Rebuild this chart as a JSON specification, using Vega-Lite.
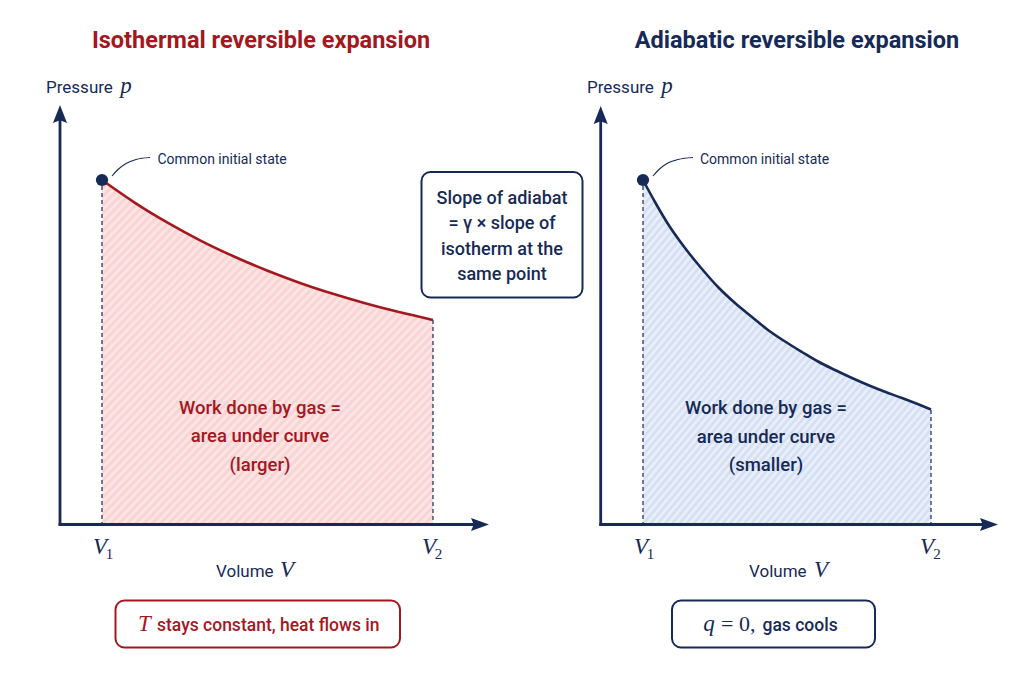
{
  "$schema": "https://vega.github.io/schema/vega-lite/v6.json",
  "width": 1024,
  "height": 683,
  "autosize": {"type": "fit", "contains": "padding"},
  "padding": 0,
  "background": "white",
  "config": {"view": {"stroke": null}},
  "datasets": {
    "curves": [
      {"process": "isothermal", "x": 102, "y": 180},
      {"process": "isothermal", "x": 135, "y": 202.8},
      {"process": "isothermal", "x": 168, "y": 222.9},
      {"process": "isothermal", "x": 201, "y": 240.8},
      {"process": "isothermal", "x": 234, "y": 256.5},
      {"process": "isothermal", "x": 267, "y": 270.5},
      {"process": "isothermal", "x": 300, "y": 282.9},
      {"process": "isothermal", "x": 333, "y": 293.8},
      {"process": "isothermal", "x": 366, "y": 303.5},
      {"process": "isothermal", "x": 399, "y": 312.1},
      {"process": "isothermal", "x": 433, "y": 320},
      {"process": "adiabatic", "x": 643, "y": 180},
      {"process": "adiabatic", "x": 655, "y": 202},
      {"process": "adiabatic", "x": 668, "y": 224},
      {"process": "adiabatic", "x": 685, "y": 248},
      {"process": "adiabatic", "x": 702, "y": 269},
      {"process": "adiabatic", "x": 718, "y": 287},
      {"process": "adiabatic", "x": 735, "y": 303},
      {"process": "adiabatic", "x": 752, "y": 317},
      {"process": "adiabatic", "x": 768, "y": 330},
      {"process": "adiabatic", "x": 785, "y": 341.5},
      {"process": "adiabatic", "x": 802, "y": 352},
      {"process": "adiabatic", "x": 818, "y": 361.5},
      {"process": "adiabatic", "x": 835, "y": 370},
      {"process": "adiabatic", "x": 852, "y": 378},
      {"process": "adiabatic", "x": 868, "y": 385},
      {"process": "adiabatic", "x": 885, "y": 391.8},
      {"process": "adiabatic", "x": 902, "y": 398},
      {"process": "adiabatic", "x": 917, "y": 403.8},
      {"process": "adiabatic", "x": 931, "y": 409.5}
    ],
    "guides": [
      {"x": 102, "y": 186, "y2": 524},
      {"x": 433, "y": 320, "y2": 524},
      {"x": 643, "y": 186, "y2": 524},
      {"x": 931, "y": 410, "y2": 524}
    ],
    "axes": [
      {"x": 60, "y": 525.8, "x2": 60, "y2": 116},
      {"x": 58.6, "y": 524.5, "x2": 478, "y2": 524.5},
      {"x": 600.7, "y": 525.8, "x2": 600.7, "y2": 117},
      {"x": 599.3, "y": 524.5, "x2": 987, "y2": 524.5}
    ],
    "arrows": [
      {"dir": "up", "x": 60, "y": 114},
      {"dir": "up", "x": 600.7, "y": 115},
      {"dir": "right", "x": 480, "y": 524.5},
      {"dir": "right", "x": 989, "y": 524.5}
    ],
    "leaders": [
      {"panel": "left", "x": 112, "y": 176},
      {"panel": "left", "x": 118, "y": 169.5},
      {"panel": "left", "x": 126, "y": 163.5},
      {"panel": "left", "x": 136, "y": 159.5},
      {"panel": "left", "x": 150, "y": 157.5},
      {"panel": "right", "x": 653, "y": 176},
      {"panel": "right", "x": 659, "y": 169.5},
      {"panel": "right", "x": 667, "y": 163.5},
      {"panel": "right", "x": 678, "y": 159.5},
      {"panel": "right", "x": 693, "y": 157.5}
    ],
    "states": [
      {"x": 102, "y": 180},
      {"x": 643, "y": 180}
    ],
    "boxes": [
      {"process": "isothermal", "x": 115.5, "x2": 400, "y": 600.5, "y2": 647.5},
      {"process": "adiabatic", "x": 672, "x2": 875, "y": 600.5, "y2": 647.5},
      {"process": "comparison", "x": 421.5, "x2": 582.5, "y": 172, "y2": 297.5}
    ],
    "labels": [
      {"role": "title", "process": "isothermal", "x": 261, "y": 48, "text": "Isothermal reversible expansion"},
      {"role": "title", "process": "adiabatic", "x": 797, "y": 48, "text": "Adiabatic reversible expansion"},
      {"role": "axisname", "process": "comparison", "x": 46, "y": 93, "text": "Pressure"},
      {"role": "axisname", "process": "comparison", "x": 587, "y": 93, "text": "Pressure"},
      {"role": "axisname", "process": "comparison", "x": 216, "y": 577, "text": "Volume"},
      {"role": "axisname", "process": "comparison", "x": 749, "y": 577, "text": "Volume"},
      {"role": "math", "process": "comparison", "x": 126, "y": 93, "text": "p"},
      {"role": "math", "process": "comparison", "x": 667, "y": 93, "text": "p"},
      {"role": "math", "process": "comparison", "x": 287, "y": 577, "text": "V"},
      {"role": "math", "process": "comparison", "x": 821, "y": 577, "text": "V"},
      {"role": "math", "process": "comparison", "x": 100, "y": 554, "text": "V"},
      {"role": "math", "process": "comparison", "x": 429, "y": 554, "text": "V"},
      {"role": "math", "process": "comparison", "x": 641, "y": 554, "text": "V"},
      {"role": "math", "process": "comparison", "x": 927, "y": 554, "text": "V"},
      {"role": "math", "process": "isothermal", "x": 144.5, "y": 631, "text": "T"},
      {"role": "math", "process": "adiabatic", "x": 709, "y": 631, "text": "q"},
      {"role": "sub", "process": "comparison", "x": 109.5, "y": 558.5, "text": "1"},
      {"role": "sub", "process": "comparison", "x": 438.5, "y": 558.5, "text": "2"},
      {"role": "sub", "process": "comparison", "x": 650.5, "y": 558.5, "text": "1"},
      {"role": "sub", "process": "comparison", "x": 937, "y": 558.5, "text": "2"},
      {"role": "mathup", "process": "adiabatic", "x": 721, "y": 631, "text": "= 0,"},
      {"role": "caption", "process": "isothermal", "x": 157, "y": 631, "text": "stays constant, heat flows in"},
      {"role": "caption", "process": "adiabatic", "x": 762.5, "y": 631, "text": "gas cools"},
      {"role": "note", "process": "comparison", "x": 157.5, "y": 163.5, "text": "Common initial state"},
      {"role": "note", "process": "comparison", "x": 700, "y": 163.5, "text": "Common initial state"},
      {"role": "area", "process": "isothermal", "x": 260, "y": 413.5, "text": "Work done by gas =\narea under curve\n(larger)"},
      {"role": "area", "process": "adiabatic", "x": 766, "y": 414, "text": "Work done by gas =\narea under curve\n(smaller)"},
      {"role": "boxnote", "process": "comparison", "x": 502, "y": 203.5, "text": "Slope of adiabat\n= γ × slope of\nisotherm at the\nsame point"}
    ]
  },
  "encoding": {
    "x": {"field": "x", "type": "quantitative", "scale": {"domain": [0, 1024], "nice": false, "zero": false}, "axis": null},
    "y": {"field": "y", "type": "quantitative", "scale": {"domain": [0, 683], "nice": false, "zero": false, "reverse": true}, "axis": null}
  },
  "layer": [
    {
      "data": {"name": "curves"},
      "transform": [{"filter": "datum.process === 'isothermal'"}],
      "mark": {"type": "area", "orient": "vertical", "interpolate": "monotone", "fill": {"gradient": "linear", "x1": 0, "y1": 0, "x2": 1, "y2": 1, "stops": [
        {"offset": 0, "color": "#f8d0d0"}, {"offset": 0.00625, "color": "#fde8e8"}, {"offset": 0.0125, "color": "#f8d0d0"}, {"offset": 0.01875, "color": "#fde8e8"}, {"offset": 0.025, "color": "#f8d0d0"}, {"offset": 0.03125, "color": "#fde8e8"}, {"offset": 0.0375, "color": "#f8d0d0"}, {"offset": 0.04375, "color": "#fde8e8"}, {"offset": 0.05, "color": "#f8d0d0"}, {"offset": 0.05625, "color": "#fde8e8"}, {"offset": 0.0625, "color": "#f8d0d0"}, {"offset": 0.06875, "color": "#fde8e8"}, {"offset": 0.075, "color": "#f8d0d0"}, {"offset": 0.08125, "color": "#fde8e8"}, {"offset": 0.0875, "color": "#f8d0d0"}, {"offset": 0.09375, "color": "#fde8e8"},
        {"offset": 0.1, "color": "#f8d0d0"}, {"offset": 0.10625, "color": "#fde8e8"}, {"offset": 0.1125, "color": "#f8d0d0"}, {"offset": 0.11875, "color": "#fde8e8"}, {"offset": 0.125, "color": "#f8d0d0"}, {"offset": 0.13125, "color": "#fde8e8"}, {"offset": 0.1375, "color": "#f8d0d0"}, {"offset": 0.14375, "color": "#fde8e8"}, {"offset": 0.15, "color": "#f8d0d0"}, {"offset": 0.15625, "color": "#fde8e8"}, {"offset": 0.1625, "color": "#f8d0d0"}, {"offset": 0.16875, "color": "#fde8e8"}, {"offset": 0.175, "color": "#f8d0d0"}, {"offset": 0.18125, "color": "#fde8e8"}, {"offset": 0.1875, "color": "#f8d0d0"}, {"offset": 0.19375, "color": "#fde8e8"},
        {"offset": 0.2, "color": "#f8d0d0"}, {"offset": 0.20625, "color": "#fde8e8"}, {"offset": 0.2125, "color": "#f8d0d0"}, {"offset": 0.21875, "color": "#fde8e8"}, {"offset": 0.225, "color": "#f8d0d0"}, {"offset": 0.23125, "color": "#fde8e8"}, {"offset": 0.2375, "color": "#f8d0d0"}, {"offset": 0.24375, "color": "#fde8e8"}, {"offset": 0.25, "color": "#f8d0d0"}, {"offset": 0.25625, "color": "#fde8e8"}, {"offset": 0.2625, "color": "#f8d0d0"}, {"offset": 0.26875, "color": "#fde8e8"}, {"offset": 0.275, "color": "#f8d0d0"}, {"offset": 0.28125, "color": "#fde8e8"}, {"offset": 0.2875, "color": "#f8d0d0"}, {"offset": 0.29375, "color": "#fde8e8"},
        {"offset": 0.3, "color": "#f8d0d0"}, {"offset": 0.30625, "color": "#fde8e8"}, {"offset": 0.3125, "color": "#f8d0d0"}, {"offset": 0.31875, "color": "#fde8e8"}, {"offset": 0.325, "color": "#f8d0d0"}, {"offset": 0.33125, "color": "#fde8e8"}, {"offset": 0.3375, "color": "#f8d0d0"}, {"offset": 0.34375, "color": "#fde8e8"}, {"offset": 0.35, "color": "#f8d0d0"}, {"offset": 0.35625, "color": "#fde8e8"}, {"offset": 0.3625, "color": "#f8d0d0"}, {"offset": 0.36875, "color": "#fde8e8"}, {"offset": 0.375, "color": "#f8d0d0"}, {"offset": 0.38125, "color": "#fde8e8"}, {"offset": 0.3875, "color": "#f8d0d0"}, {"offset": 0.39375, "color": "#fde8e8"},
        {"offset": 0.4, "color": "#f8d0d0"}, {"offset": 0.40625, "color": "#fde8e8"}, {"offset": 0.4125, "color": "#f8d0d0"}, {"offset": 0.41875, "color": "#fde8e8"}, {"offset": 0.425, "color": "#f8d0d0"}, {"offset": 0.43125, "color": "#fde8e8"}, {"offset": 0.4375, "color": "#f8d0d0"}, {"offset": 0.44375, "color": "#fde8e8"}, {"offset": 0.45, "color": "#f8d0d0"}, {"offset": 0.45625, "color": "#fde8e8"}, {"offset": 0.4625, "color": "#f8d0d0"}, {"offset": 0.46875, "color": "#fde8e8"}, {"offset": 0.475, "color": "#f8d0d0"}, {"offset": 0.48125, "color": "#fde8e8"}, {"offset": 0.4875, "color": "#f8d0d0"}, {"offset": 0.49375, "color": "#fde8e8"},
        {"offset": 0.5, "color": "#f8d0d0"}, {"offset": 0.50625, "color": "#fde8e8"}, {"offset": 0.5125, "color": "#f8d0d0"}, {"offset": 0.51875, "color": "#fde8e8"}, {"offset": 0.525, "color": "#f8d0d0"}, {"offset": 0.53125, "color": "#fde8e8"}, {"offset": 0.5375, "color": "#f8d0d0"}, {"offset": 0.54375, "color": "#fde8e8"}, {"offset": 0.55, "color": "#f8d0d0"}, {"offset": 0.55625, "color": "#fde8e8"}, {"offset": 0.5625, "color": "#f8d0d0"}, {"offset": 0.56875, "color": "#fde8e8"}, {"offset": 0.575, "color": "#f8d0d0"}, {"offset": 0.58125, "color": "#fde8e8"}, {"offset": 0.5875, "color": "#f8d0d0"}, {"offset": 0.59375, "color": "#fde8e8"},
        {"offset": 0.6, "color": "#f8d0d0"}, {"offset": 0.60625, "color": "#fde8e8"}, {"offset": 0.6125, "color": "#f8d0d0"}, {"offset": 0.61875, "color": "#fde8e8"}, {"offset": 0.625, "color": "#f8d0d0"}, {"offset": 0.63125, "color": "#fde8e8"}, {"offset": 0.6375, "color": "#f8d0d0"}, {"offset": 0.64375, "color": "#fde8e8"}, {"offset": 0.65, "color": "#f8d0d0"}, {"offset": 0.65625, "color": "#fde8e8"}, {"offset": 0.6625, "color": "#f8d0d0"}, {"offset": 0.66875, "color": "#fde8e8"}, {"offset": 0.675, "color": "#f8d0d0"}, {"offset": 0.68125, "color": "#fde8e8"}, {"offset": 0.6875, "color": "#f8d0d0"}, {"offset": 0.69375, "color": "#fde8e8"},
        {"offset": 0.7, "color": "#f8d0d0"}, {"offset": 0.70625, "color": "#fde8e8"}, {"offset": 0.7125, "color": "#f8d0d0"}, {"offset": 0.71875, "color": "#fde8e8"}, {"offset": 0.725, "color": "#f8d0d0"}, {"offset": 0.73125, "color": "#fde8e8"}, {"offset": 0.7375, "color": "#f8d0d0"}, {"offset": 0.74375, "color": "#fde8e8"}, {"offset": 0.75, "color": "#f8d0d0"}, {"offset": 0.75625, "color": "#fde8e8"}, {"offset": 0.7625, "color": "#f8d0d0"}, {"offset": 0.76875, "color": "#fde8e8"}, {"offset": 0.775, "color": "#f8d0d0"}, {"offset": 0.78125, "color": "#fde8e8"}, {"offset": 0.7875, "color": "#f8d0d0"}, {"offset": 0.79375, "color": "#fde8e8"},
        {"offset": 0.8, "color": "#f8d0d0"}, {"offset": 0.80625, "color": "#fde8e8"}, {"offset": 0.8125, "color": "#f8d0d0"}, {"offset": 0.81875, "color": "#fde8e8"}, {"offset": 0.825, "color": "#f8d0d0"}, {"offset": 0.83125, "color": "#fde8e8"}, {"offset": 0.8375, "color": "#f8d0d0"}, {"offset": 0.84375, "color": "#fde8e8"}, {"offset": 0.85, "color": "#f8d0d0"}, {"offset": 0.85625, "color": "#fde8e8"}, {"offset": 0.8625, "color": "#f8d0d0"}, {"offset": 0.86875, "color": "#fde8e8"}, {"offset": 0.875, "color": "#f8d0d0"}, {"offset": 0.88125, "color": "#fde8e8"}, {"offset": 0.8875, "color": "#f8d0d0"}, {"offset": 0.89375, "color": "#fde8e8"},
        {"offset": 0.9, "color": "#f8d0d0"}, {"offset": 0.90625, "color": "#fde8e8"}, {"offset": 0.9125, "color": "#f8d0d0"}, {"offset": 0.91875, "color": "#fde8e8"}, {"offset": 0.925, "color": "#f8d0d0"}, {"offset": 0.93125, "color": "#fde8e8"}, {"offset": 0.9375, "color": "#f8d0d0"}, {"offset": 0.94375, "color": "#fde8e8"}, {"offset": 0.95, "color": "#f8d0d0"}, {"offset": 0.95625, "color": "#fde8e8"}, {"offset": 0.9625, "color": "#f8d0d0"}, {"offset": 0.96875, "color": "#fde8e8"}, {"offset": 0.975, "color": "#f8d0d0"}, {"offset": 0.98125, "color": "#fde8e8"}, {"offset": 0.9875, "color": "#f8d0d0"}, {"offset": 0.99375, "color": "#fde8e8"},
        {"offset": 1, "color": "#f8d0d0"}
      ]}},
      "encoding": {"y2": {"datum": 524}}
    },
    {
      "data": {"name": "curves"},
      "transform": [{"filter": "datum.process === 'adiabatic'"}],
      "mark": {"type": "area", "orient": "vertical", "interpolate": "monotone", "fill": {"gradient": "linear", "x1": 0, "y1": 0, "x2": 1, "y2": 1, "stops": [
        {"offset": 0, "color": "#d0dcf1"}, {"offset": 0.00625, "color": "#edf2fb"}, {"offset": 0.0125, "color": "#d0dcf1"}, {"offset": 0.01875, "color": "#edf2fb"}, {"offset": 0.025, "color": "#d0dcf1"}, {"offset": 0.03125, "color": "#edf2fb"}, {"offset": 0.0375, "color": "#d0dcf1"}, {"offset": 0.04375, "color": "#edf2fb"}, {"offset": 0.05, "color": "#d0dcf1"}, {"offset": 0.05625, "color": "#edf2fb"}, {"offset": 0.0625, "color": "#d0dcf1"}, {"offset": 0.06875, "color": "#edf2fb"}, {"offset": 0.075, "color": "#d0dcf1"}, {"offset": 0.08125, "color": "#edf2fb"}, {"offset": 0.0875, "color": "#d0dcf1"}, {"offset": 0.09375, "color": "#edf2fb"},
        {"offset": 0.1, "color": "#d0dcf1"}, {"offset": 0.10625, "color": "#edf2fb"}, {"offset": 0.1125, "color": "#d0dcf1"}, {"offset": 0.11875, "color": "#edf2fb"}, {"offset": 0.125, "color": "#d0dcf1"}, {"offset": 0.13125, "color": "#edf2fb"}, {"offset": 0.1375, "color": "#d0dcf1"}, {"offset": 0.14375, "color": "#edf2fb"}, {"offset": 0.15, "color": "#d0dcf1"}, {"offset": 0.15625, "color": "#edf2fb"}, {"offset": 0.1625, "color": "#d0dcf1"}, {"offset": 0.16875, "color": "#edf2fb"}, {"offset": 0.175, "color": "#d0dcf1"}, {"offset": 0.18125, "color": "#edf2fb"}, {"offset": 0.1875, "color": "#d0dcf1"}, {"offset": 0.19375, "color": "#edf2fb"},
        {"offset": 0.2, "color": "#d0dcf1"}, {"offset": 0.20625, "color": "#edf2fb"}, {"offset": 0.2125, "color": "#d0dcf1"}, {"offset": 0.21875, "color": "#edf2fb"}, {"offset": 0.225, "color": "#d0dcf1"}, {"offset": 0.23125, "color": "#edf2fb"}, {"offset": 0.2375, "color": "#d0dcf1"}, {"offset": 0.24375, "color": "#edf2fb"}, {"offset": 0.25, "color": "#d0dcf1"}, {"offset": 0.25625, "color": "#edf2fb"}, {"offset": 0.2625, "color": "#d0dcf1"}, {"offset": 0.26875, "color": "#edf2fb"}, {"offset": 0.275, "color": "#d0dcf1"}, {"offset": 0.28125, "color": "#edf2fb"}, {"offset": 0.2875, "color": "#d0dcf1"}, {"offset": 0.29375, "color": "#edf2fb"},
        {"offset": 0.3, "color": "#d0dcf1"}, {"offset": 0.30625, "color": "#edf2fb"}, {"offset": 0.3125, "color": "#d0dcf1"}, {"offset": 0.31875, "color": "#edf2fb"}, {"offset": 0.325, "color": "#d0dcf1"}, {"offset": 0.33125, "color": "#edf2fb"}, {"offset": 0.3375, "color": "#d0dcf1"}, {"offset": 0.34375, "color": "#edf2fb"}, {"offset": 0.35, "color": "#d0dcf1"}, {"offset": 0.35625, "color": "#edf2fb"}, {"offset": 0.3625, "color": "#d0dcf1"}, {"offset": 0.36875, "color": "#edf2fb"}, {"offset": 0.375, "color": "#d0dcf1"}, {"offset": 0.38125, "color": "#edf2fb"}, {"offset": 0.3875, "color": "#d0dcf1"}, {"offset": 0.39375, "color": "#edf2fb"},
        {"offset": 0.4, "color": "#d0dcf1"}, {"offset": 0.40625, "color": "#edf2fb"}, {"offset": 0.4125, "color": "#d0dcf1"}, {"offset": 0.41875, "color": "#edf2fb"}, {"offset": 0.425, "color": "#d0dcf1"}, {"offset": 0.43125, "color": "#edf2fb"}, {"offset": 0.4375, "color": "#d0dcf1"}, {"offset": 0.44375, "color": "#edf2fb"}, {"offset": 0.45, "color": "#d0dcf1"}, {"offset": 0.45625, "color": "#edf2fb"}, {"offset": 0.4625, "color": "#d0dcf1"}, {"offset": 0.46875, "color": "#edf2fb"}, {"offset": 0.475, "color": "#d0dcf1"}, {"offset": 0.48125, "color": "#edf2fb"}, {"offset": 0.4875, "color": "#d0dcf1"}, {"offset": 0.49375, "color": "#edf2fb"},
        {"offset": 0.5, "color": "#d0dcf1"}, {"offset": 0.50625, "color": "#edf2fb"}, {"offset": 0.5125, "color": "#d0dcf1"}, {"offset": 0.51875, "color": "#edf2fb"}, {"offset": 0.525, "color": "#d0dcf1"}, {"offset": 0.53125, "color": "#edf2fb"}, {"offset": 0.5375, "color": "#d0dcf1"}, {"offset": 0.54375, "color": "#edf2fb"}, {"offset": 0.55, "color": "#d0dcf1"}, {"offset": 0.55625, "color": "#edf2fb"}, {"offset": 0.5625, "color": "#d0dcf1"}, {"offset": 0.56875, "color": "#edf2fb"}, {"offset": 0.575, "color": "#d0dcf1"}, {"offset": 0.58125, "color": "#edf2fb"}, {"offset": 0.5875, "color": "#d0dcf1"}, {"offset": 0.59375, "color": "#edf2fb"},
        {"offset": 0.6, "color": "#d0dcf1"}, {"offset": 0.60625, "color": "#edf2fb"}, {"offset": 0.6125, "color": "#d0dcf1"}, {"offset": 0.61875, "color": "#edf2fb"}, {"offset": 0.625, "color": "#d0dcf1"}, {"offset": 0.63125, "color": "#edf2fb"}, {"offset": 0.6375, "color": "#d0dcf1"}, {"offset": 0.64375, "color": "#edf2fb"}, {"offset": 0.65, "color": "#d0dcf1"}, {"offset": 0.65625, "color": "#edf2fb"}, {"offset": 0.6625, "color": "#d0dcf1"}, {"offset": 0.66875, "color": "#edf2fb"}, {"offset": 0.675, "color": "#d0dcf1"}, {"offset": 0.68125, "color": "#edf2fb"}, {"offset": 0.6875, "color": "#d0dcf1"}, {"offset": 0.69375, "color": "#edf2fb"},
        {"offset": 0.7, "color": "#d0dcf1"}, {"offset": 0.70625, "color": "#edf2fb"}, {"offset": 0.7125, "color": "#d0dcf1"}, {"offset": 0.71875, "color": "#edf2fb"}, {"offset": 0.725, "color": "#d0dcf1"}, {"offset": 0.73125, "color": "#edf2fb"}, {"offset": 0.7375, "color": "#d0dcf1"}, {"offset": 0.74375, "color": "#edf2fb"}, {"offset": 0.75, "color": "#d0dcf1"}, {"offset": 0.75625, "color": "#edf2fb"}, {"offset": 0.7625, "color": "#d0dcf1"}, {"offset": 0.76875, "color": "#edf2fb"}, {"offset": 0.775, "color": "#d0dcf1"}, {"offset": 0.78125, "color": "#edf2fb"}, {"offset": 0.7875, "color": "#d0dcf1"}, {"offset": 0.79375, "color": "#edf2fb"},
        {"offset": 0.8, "color": "#d0dcf1"}, {"offset": 0.80625, "color": "#edf2fb"}, {"offset": 0.8125, "color": "#d0dcf1"}, {"offset": 0.81875, "color": "#edf2fb"}, {"offset": 0.825, "color": "#d0dcf1"}, {"offset": 0.83125, "color": "#edf2fb"}, {"offset": 0.8375, "color": "#d0dcf1"}, {"offset": 0.84375, "color": "#edf2fb"}, {"offset": 0.85, "color": "#d0dcf1"}, {"offset": 0.85625, "color": "#edf2fb"}, {"offset": 0.8625, "color": "#d0dcf1"}, {"offset": 0.86875, "color": "#edf2fb"}, {"offset": 0.875, "color": "#d0dcf1"}, {"offset": 0.88125, "color": "#edf2fb"}, {"offset": 0.8875, "color": "#d0dcf1"}, {"offset": 0.89375, "color": "#edf2fb"},
        {"offset": 0.9, "color": "#d0dcf1"}, {"offset": 0.90625, "color": "#edf2fb"}, {"offset": 0.9125, "color": "#d0dcf1"}, {"offset": 0.91875, "color": "#edf2fb"}, {"offset": 0.925, "color": "#d0dcf1"}, {"offset": 0.93125, "color": "#edf2fb"}, {"offset": 0.9375, "color": "#d0dcf1"}, {"offset": 0.94375, "color": "#edf2fb"}, {"offset": 0.95, "color": "#d0dcf1"}, {"offset": 0.95625, "color": "#edf2fb"}, {"offset": 0.9625, "color": "#d0dcf1"}, {"offset": 0.96875, "color": "#edf2fb"}, {"offset": 0.975, "color": "#d0dcf1"}, {"offset": 0.98125, "color": "#edf2fb"}, {"offset": 0.9875, "color": "#d0dcf1"}, {"offset": 0.99375, "color": "#edf2fb"},
        {"offset": 1, "color": "#d0dcf1"}
      ]}},
      "encoding": {"y2": {"datum": 524}}
    },
    {
      "data": {"name": "guides"},
      "mark": {"type": "rule", "color": "#172a57", "strokeWidth": 1.2, "strokeDash": [4, 3]},
      "encoding": {"y2": {"field": "y2"}}
    },
    {
      "data": {"name": "axes"},
      "mark": {"type": "rule", "color": "#172a57", "strokeWidth": 2.8, "strokeCap": "butt"},
      "encoding": {"x2": {"field": "x2"}, "y2": {"field": "y2"}}
    },
    {
      "data": {"name": "arrows"},
      "transform": [{"filter": "datum.dir === 'up'"}],
      "mark": {"type": "point", "filled": true, "opacity": 1, "color": "#172a57", "size": 324, "shape": "M0,-1L0.78,1L0,0.7L-0.78,1Z"},
      "encoding": {}
    },
    {
      "data": {"name": "arrows"},
      "transform": [{"filter": "datum.dir === 'right'"}],
      "mark": {"type": "point", "filled": true, "opacity": 1, "color": "#172a57", "size": 324, "shape": "M1,0L-1,0.72L-0.7,0L-1,-0.72Z"},
      "encoding": {}
    },
    {
      "data": {"name": "curves"},
      "mark": {"type": "line", "strokeWidth": 2.6, "interpolate": "monotone"},
      "encoding": {
        "color": {"field": "process", "type": "nominal", "scale": {"domain": ["isothermal", "adiabatic", "comparison"], "range": ["#a3181f", "#172a57", "#172a57"]}, "legend": null}
      }
    },
    {
      "data": {"name": "leaders"},
      "mark": {"type": "line", "color": "#172a57", "strokeWidth": 1.1, "interpolate": "monotone"},
      "encoding": {"detail": {"field": "panel"}}
    },
    {
      "data": {"name": "states"},
      "mark": {"type": "point", "shape": "circle", "filled": true, "opacity": 1, "color": "#172a57", "size": 150},
      "encoding": {}
    },
    {
      "data": {"name": "boxes"},
      "mark": {"type": "rect", "fill": "white", "strokeWidth": 2, "cornerRadius": 9},
      "encoding": {
        "x2": {"field": "x2"},
        "y2": {"field": "y2"},
        "stroke": {"field": "process", "type": "nominal", "scale": {"domain": ["isothermal", "adiabatic", "comparison"], "range": ["#a3181f", "#172a57", "#172a57"]}, "legend": null}
      }
    },
    {
      "data": {"name": "labels"},
      "transform": [{"filter": "datum.role === 'title'"}],
      "mark": {"type": "text", "font": "Roboto", "fontSize": 23.5, "fontWeight": "bold", "align": "center", "baseline": "alphabetic"},
      "encoding": {
        "text": {"field": "text"},
        "color": {"field": "process", "type": "nominal", "scale": {"domain": ["isothermal", "adiabatic", "comparison"], "range": ["#a3181f", "#172a57", "#172a57"]}, "legend": null}
      }
    },
    {
      "data": {"name": "labels"},
      "transform": [{"filter": "datum.role === 'axisname'"}],
      "mark": {"type": "text", "font": "Roboto", "fontSize": 17, "fontWeight": "normal", "align": "left", "baseline": "alphabetic", "color": "#172a57"},
      "encoding": {"text": {"field": "text"}}
    },
    {
      "data": {"name": "labels"},
      "transform": [{"filter": "datum.role === 'note'"}],
      "mark": {"type": "text", "font": "Roboto", "fontSize": 14, "align": "left", "baseline": "alphabetic", "color": "#172a57"},
      "encoding": {"text": {"field": "text"}}
    },
    {
      "data": {"name": "labels"},
      "transform": [{"filter": "datum.role === 'math'"}],
      "mark": {"type": "text", "font": "Liberation Serif", "fontSize": 23, "fontStyle": "italic", "align": "center", "baseline": "alphabetic"},
      "encoding": {
        "text": {"field": "text"},
        "color": {"field": "process", "type": "nominal", "scale": {"domain": ["isothermal", "adiabatic", "comparison"], "range": ["#a3181f", "#172a57", "#172a57"]}, "legend": null}
      }
    },
    {
      "data": {"name": "labels"},
      "transform": [{"filter": "datum.role === 'sub'"}],
      "mark": {"type": "text", "font": "Liberation Serif", "fontSize": 15, "align": "center", "baseline": "alphabetic", "color": "#172a57"},
      "encoding": {"text": {"field": "text"}}
    },
    {
      "data": {"name": "labels"},
      "transform": [{"filter": "datum.role === 'mathup'"}],
      "mark": {"type": "text", "font": "Liberation Serif", "fontSize": 22, "align": "left", "baseline": "alphabetic", "color": "#172a57"},
      "encoding": {"text": {"field": "text"}}
    },
    {
      "data": {"name": "labels"},
      "transform": [{"filter": "datum.role === 'caption'"}],
      "mark": {"type": "text", "font": "Roboto", "fontSize": 17.5, "fontWeight": 500, "align": "left", "baseline": "alphabetic"},
      "encoding": {
        "text": {"field": "text"},
        "color": {"field": "process", "type": "nominal", "scale": {"domain": ["isothermal", "adiabatic", "comparison"], "range": ["#a3181f", "#172a57", "#172a57"]}, "legend": null}
      }
    },
    {
      "data": {"name": "labels"},
      "transform": [{"filter": "datum.role === 'area'"}],
      "mark": {"type": "text", "font": "Roboto", "fontSize": 18.5, "fontWeight": 500, "align": "center", "baseline": "alphabetic", "lineBreak": "\n", "lineHeight": 28.5},
      "encoding": {
        "text": {"field": "text"},
        "color": {"field": "process", "type": "nominal", "scale": {"domain": ["isothermal", "adiabatic", "comparison"], "range": ["#a3181f", "#172a57", "#172a57"]}, "legend": null}
      }
    },
    {
      "data": {"name": "labels"},
      "transform": [{"filter": "datum.role === 'boxnote'"}],
      "mark": {"type": "text", "font": "Roboto", "fontSize": 18, "fontWeight": 500, "align": "center", "baseline": "alphabetic", "lineBreak": "\n", "lineHeight": 25.6, "color": "#172a57"},
      "encoding": {"text": {"field": "text"}}
    }
  ]
}
